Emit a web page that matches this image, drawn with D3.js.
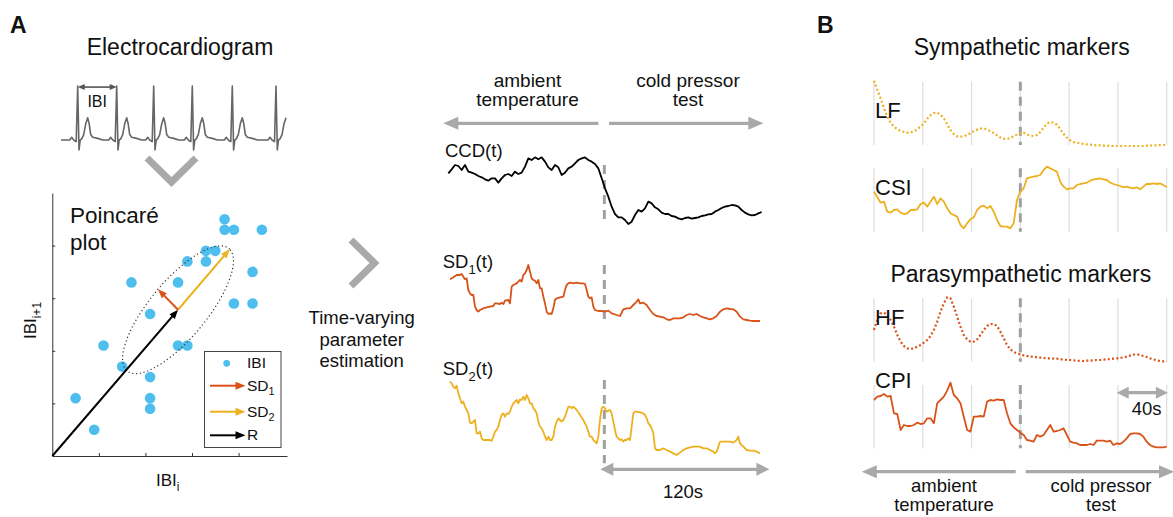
<!DOCTYPE html>
<html><head><meta charset="utf-8">
<script src="https://cdn.jsdelivr.net/npm/d3@7"></script>
<style>
html,body{margin:0;padding:0;background:#fff;}
svg{display:block;font-family:"Liberation Sans",Arial,Helvetica,sans-serif;}
</style></head><body>
<svg id="c" width="1173" height="517"></svg>
<script>
// ================= DATA =================
// ECG: R-peak times (s) and a single-beat template (offset s, amplitude mV)
const ecgRPeakTimes = [0.334, 1.114, 1.854, 2.626, 3.426, 4.3];
const ecgTemplateDt = [-0.16,-0.12,-0.08,-0.03,0,0.026,0.05,0.08,0.12,0.16,0.2,0.23,0.26,0.3,0.4,0.5];
const ecgTemplateMv = [0,0.05,0,-0.03,1.0,-0.185,0,0.02,0.1,0.3,0.41,0.3,0.1,0.05,0.03,0];
const ecgDuration = 4.5;

// Poincaré plot: IBI_i vs IBI_i+1 (arbitrary units)
const ibiI  = [3.7,3.7,3.9,4.5,3.3,3.5,2.9,3.3,4.3,1.7,2.7,3.9,4.3,2.1,1.1,2.7,2.9,1.5,2.1,0.5,2.1,2.1,0.9];
const ibiI1 = [4.5,4.3,4.3,4.3,3.9,3.9,3.7,3.7,3.5,3.3,3.3,2.9,2.9,2.7,2.1,2.1,2.1,1.7,1.5,1.1,1.1,0.9,0.5];
const poincareCenter = [2.70, 2.78];
const sd1Tip = [2.27, 3.17];
const sd2Tip = [3.81, 3.93];
const poincareTicks = [1, 2, 3, 4];
const legendItems = ["IBI", "SD1", "SD2", "R"];

// Time-varying estimates (sample index, ~1.18 s per sample)
const midSamplePeriod = 1.183;
const cptOnsetIdx = 104.6;
const ccdStartIdx = 11, ccdStepIdx = 2;
const ccdValues = [
 16.0,17.2,18.5,18.2,17.0,18.5,16.5,16.2,15.8,15.2,
 14.8,14.2,13.8,14.5,14.5,13.2,14.5,15.5,15.8,15.2,
 16.5,15.8,16.2,18.0,20.5,20.0,20.8,20.2,20.8,19.5,
 17.8,17.0,18.5,17.8,15.5,16.2,17.5,18.0,19.0,20.0,
 20.5,20.8,20.0,19.5,18.8,17.5,14.5,11.5,9.0,6.0,
 3.8,2.8,2.8,2.0,0.8,1.5,3.5,5.0,4.5,5.5,
 7.5,7.0,5.8,5.2,4.2,3.8,3.8,3.2,3.0,2.5,
 2.2,2.6,2.8,2.4,2.6,2.8,3.2,3.4,3.7,3.8,
 4.5,5.0,5.6,6.0,6.2,6.5,6.4,6.0,5.0,4.2,
 3.7,3.4,3.5,4.0,4.4];
const sd1Series = [[12,18.2],[14,18.8],[16,19.5],[18,19.5],[19,19.8],[20,19.0],[21,18.2],[22,18.5],[23,15.0],[24,14.0],[25,13.5],[26,13.5],[27,10.0],[28,9.0],[29,8.5],[30,9.0],[32,9.5],[34,9.8],[36,10.0],[38,10.2],[39,11.0],[40,11.0],[42,10.8],[43,11.2],[44,10.8],[45,11.8],[47,12.0],[48,11.0],[49,16.0],[50,16.5],[52,17.0],[53,17.5],[54,18.0],[55,17.5],[56,19.5],[57,20.0],[58,21.0],[59,22.5],[60,20.5],[61,18.5],[62,18.0],[63,17.8],[64,17.0],[65,18.0],[66,15.5],[67,15.5],[68,13.0],[69,11.0],[70,8.5],[71,7.8],[72,8.0],[73,7.8],[74,9.5],[75,12.0],[76,12.5],[78,12.8],[80,13.0],[81,15.0],[82,16.5],[83,17.0],[84,17.2],[86,17.0],[88,17.2],[90,17.0],[92,17.0],[93,16.8],[94,15.0],[95,13.0],[96,12.5],[97,12.8],[98,10.0],[99,9.0],[101,8.7],[103,8.7],[105,8.5],[107,8.8],[109,8.0],[112,7.5],[114,7.2],[116,9.2],[118,9.5],[120,9.5],[122,10.5],[124,11.5],[125,12.2],[126,11.0],[128,11.2],[130,10.5],[132,9.0],[134,7.8],[136,7.2],[138,7.0],[140,6.8],[142,6.2],[144,6.0],[146,6.5],[148,6.5],[150,6.5],[152,6.8],[154,7.5],[156,7.8],[158,7.5],[160,7.8],[162,7.2],[164,6.8],[166,6.5],[168,6.2],[170,6.5],[172,7.2],[174,8.5],[176,9.2],[178,9.5],[180,9.3],[182,9.2],[184,8.5],[186,7.0],[188,6.2],[190,6.0],[192,5.8],[194,5.7],[196,5.7],[198,5.7]];
const sd2Series = [[12,27.5],[13,27.0],[14,26.0],[15,25.5],[16,26.3],[17,24.0],[18,22.5],[19,21.0],[20,21.5],[21,20.0],[22,19.0],[23,18.0],[24,15.2],[25,15.0],[26,15.5],[27,16.0],[28,12.0],[29,12.0],[30,12.5],[31,10.5],[32,10.0],[34,10.0],[36,10.0],[37,9.7],[38,11.0],[39,12.5],[40,13.0],[41,14.0],[42,16.0],[43,17.5],[44,18.0],[45,17.0],[46,18.0],[47,17.8],[48,18.5],[49,20.0],[50,21.0],[51,21.5],[52,22.0],[53,21.0],[54,22.2],[55,22.0],[56,23.0],[57,22.0],[58,23.5],[59,22.5],[60,21.0],[61,21.0],[62,19.5],[63,19.0],[64,18.0],[65,15.5],[66,14.0],[67,13.5],[68,12.5],[69,11.0],[70,10.0],[71,11.0],[72,10.0],[73,10.0],[74,11.0],[75,14.0],[76,15.5],[77,16.5],[78,16.0],[79,15.5],[80,16.0],[81,17.0],[82,18.5],[83,20.0],[84,20.0],[85,19.5],[86,20.0],[88,19.0],[90,17.5],[92,16.0],[93,15.0],[94,14.0],[95,12.5],[96,11.0],[97,11.0],[98,10.0],[99,9.5],[100,9.0],[101,11.0],[102,16.0],[103,19.5],[104,20.0],[105,19.5],[106,18.5],[107,18.8],[108,19.0],[109,18.0],[110,15.5],[111,13.0],[112,11.0],[113,10.5],[114,10.0],[115,10.2],[116,9.5],[117,10.0],[118,10.0],[119,10.5],[120,10.0],[121,14.0],[122,18.0],[123,18.5],[124,18.5],[126,18.3],[128,18.0],[129,17.5],[130,16.5],[131,15.0],[132,14.5],[133,13.5],[134,12.0],[135,7.5],[136,7.0],[138,7.0],[140,7.5],[142,7.0],[144,6.5],[146,6.0],[148,5.5],[150,6.2],[152,7.0],[154,7.5],[156,7.8],[158,8.0],[160,8.0],[162,8.0],[164,7.5],[166,7.5],[168,7.0],[170,6.5],[171,6.0],[172,6.5],[173,8.0],[174,9.5],[176,9.5],[178,9.5],[180,9.5],[182,9.2],[184,10.0],[185,11.0],[186,9.0],[188,8.0],[190,7.0],[192,6.8],[194,6.8],[196,6.5],[198,6.0]];

// Autonomic markers (uniform samples over 0-240 s)
const rightDuration = 240;
const rightGridTimes = [0, 40, 80, 120, 160, 200, 240];
const cptOnsetSec = 120;
const lfValues = [
 19.8,17.0,14.5,11.5,9.0,7.2,6.0,5.3,4.7,4.4,
 4.2,4.3,4.6,5.2,6.0,7.0,8.4,9.4,10.1,10.2,
 9.6,8.5,6.7,4.9,3.8,3.1,3.0,3.1,3.5,4.1,
 4.6,5.1,5.4,5.5,5.1,4.7,4.1,3.4,2.7,2.4,
 2.3,2.6,3.1,3.7,4.0,4.2,3.7,3.3,3.2,3.5,
 4.4,5.7,6.9,7.4,7.2,6.6,5.3,3.8,2.7,1.9,
 1.4,1.2,1.0,0.8,0.7,0.6,0.5,0.4,0.4,0.3,
 0.3,0.2,0.2,0.2,0.2,0.2,0.2,0.2,0.2,0.2,
 0.2,0.2,0.3,0.3,0.4,0.4,0.5,0.5,0.5];
const csiValues = [
 12.5,10.8,9.2,9.5,6.5,6.2,7.0,7.2,6.2,5.8,
 6.0,7.0,7.0,7.2,8.8,9.2,8.0,9.5,11.0,8.8,
 10.5,9.5,7.5,6.0,5.5,5.0,2.5,1.5,3.0,4.2,
 4.8,7.0,8.0,8.3,7.5,8.2,6.5,4.0,2.2,2.0,
 2.0,1.5,3.0,10.0,12.5,13.5,16.5,16.8,17.0,17.2,
 17.5,19.0,20.0,19.5,19.0,18.5,15.5,14.0,13.2,13.5,
 13.5,14.5,14.8,15.0,15.2,15.8,16.2,16.3,16.5,16.2,
 16.0,15.2,14.8,14.5,14.2,13.8,14.0,13.7,13.5,13.8,
 13.2,14.0,14.8,14.8,15.0,14.8,15.0,14.5,13.8];
const hfValues = [
 10.0,13.0,15.0,15.2,14.5,13.0,11.0,8.5,6.5,5.2,
 4.5,4.3,4.5,5.0,5.5,6.2,7.0,8.2,10.0,12.5,
 15.5,18.0,19.8,19.5,17.0,14.0,11.0,8.5,7.2,6.5,
 6.5,7.2,8.5,10.0,11.2,11.8,11.8,11.2,9.5,7.5,
 5.5,4.2,3.4,3.0,2.7,2.4,2.2,2.0,2.0,1.8,
 1.7,1.6,1.5,1.5,1.4,1.4,1.2,1.2,1.0,1.0,
 0.9,0.8,0.7,0.7,0.8,0.8,0.9,1.0,1.0,1.1,
 1.2,1.3,1.4,1.5,1.6,1.8,2.0,2.3,2.6,2.7,
 2.5,2.2,1.9,1.5,1.2,0.9,0.7,0.6,0.4];
const cpiValues = [
 15.0,16.0,16.2,16.8,16.0,16.2,11.0,10.8,6.0,7.5,
 7.2,7.2,7.5,8.2,7.8,8.0,9.5,9.5,8.0,14.0,
 15.0,16.0,17.8,20.2,16.5,15.5,14.0,10.0,6.0,5.5,
 10.0,10.0,10.2,10.0,14.5,15.0,14.8,15.2,15.0,15.0,
 11.0,8.0,6.8,6.0,5.2,4.5,3.0,2.8,2.5,4.5,
 4.0,4.5,6.0,7.5,5.5,5.7,6.0,6.5,4.5,2.5,
 2.2,2.0,1.5,1.5,1.5,1.8,1.5,2.8,2.8,2.8,
 2.5,2.8,1.5,2.0,1.8,2.5,3.5,4.8,5.0,5.0,
 4.8,4.0,2.5,1.5,1.0,0.8,0.8,0.8,1.0];

// ================= DRAWING =================
const svg = d3.select('#c');
const GRAY = '#a9a9a9', DASH = '#a0a0a0', TXT = '#111';
const C_BLUE = '#4DBEEE', C_RED = '#D95319', C_YEL = '#EDB120';

function arrow(g, x1, y1, x2, y2, o) {
  const dx = x2 - x1, dy = y2 - y1, L = Math.hypot(dx, dy), ux = dx / L, uy = dy / L;
  const inset = o.hl * 0.6;
  let sx = x1, sy = y1, tx = x2, ty = y2;
  if (o.end) { tx = x2 - ux * inset; ty = y2 - uy * inset; }
  if (o.start) { sx = x1 + ux * inset; sy = y1 + uy * inset; }
  g.append('line').attr('x1', sx).attr('y1', sy).attr('x2', tx).attr('y2', ty)
    .attr('stroke', o.color).attr('stroke-width', o.width);
  const head = (px, py, vx, vy) => {
    const bx = px - vx * o.hl, by = py - vy * o.hl, nx = -vy, ny = vx;
    g.append('path').attr('d', `M${px},${py}L${bx + nx * o.hw / 2},${by + ny * o.hw / 2}L${bx - nx * o.hw / 2},${by - ny * o.hw / 2}Z`)
      .attr('fill', o.color);
  };
  if (o.end) head(x2, y2, ux, uy);
  if (o.start) head(x1, y1, -ux, -uy);
}

function label(g, x, y, parts, size, anchor, weight) {
  const t = g.append('text').attr('x', x).attr('y', y).attr('font-size', size)
    .attr('text-anchor', anchor || 'start').attr('fill', TXT).attr('font-weight', weight || 'normal');
  let sub = false;
  parts.forEach(p => {
    const isSub = Array.isArray(p);
    const s = isSub ? p[0] : p;
    const ts = t.append('tspan').text(s);
    if (isSub && !sub) { ts.attr('dy', size * 0.3).attr('font-size', size * 0.7); sub = true; }
    else if (isSub) { ts.attr('font-size', size * 0.7); }
    else if (!isSub && sub) { ts.attr('dy', -size * 0.3); sub = false; }
  });
  return t;
}
const G = svg.append('g');

// panel letters
label(G, 10, 33, ['A'], 23, 'start', 'bold');
label(G, 817, 33, ['B'], 23, 'start', 'bold');

// ---------- ECG ----------
label(G, 180, 55, ['Electrocardiogram'], 23, 'middle');
const ex = d3.scaleLinear().domain([0, ecgDuration]).range([61, 286]);
const ey = d3.scaleLinear().domain([0, 1]).range([140, 86]);
const ecgPts = [[0, 0]];
ecgRPeakTimes.forEach(r => ecgTemplateDt.forEach((dt, k) => {
  const t = r + dt;
  if (t >= 0 && t <= ecgDuration) ecgPts.push([t, ecgTemplateMv[k]]);
}));
ecgPts.sort((a, b) => a[0] - b[0]);
G.append('path').attr('d', d3.line().x(d => ex(d[0])).y(d => ey(d[1]))(ecgPts))
  .attr('fill', 'none').attr('stroke', '#666').attr('stroke-width', 1.6).attr('stroke-linejoin', 'round');
arrow(G, ex(ecgRPeakTimes[0]), ey(0.98), ex(ecgRPeakTimes[1]), ey(0.98), {color: '#555', width: 1.6, hl: 7, hw: 6, start: true, end: true});
label(G, (ex(ecgRPeakTimes[0]) + ex(ecgRPeakTimes[1])) / 2, 106.5, ['IBI'], 16, 'middle');

// chevrons
G.append('path').attr('d', 'M147,158L171.5,182L196,158').attr('fill', 'none').attr('stroke', GRAY).attr('stroke-width', 7);
G.append('path').attr('d', 'M351,240L374.5,263L351,286').attr('fill', 'none').attr('stroke', GRAY).attr('stroke-width', 7);

// ---------- Poincaré ----------
const px = d3.scaleLinear().domain([0, 5.04]).range([52.3, 287]);
const py = d3.scaleLinear().domain([0, 5]).range([456, 193]);
const gx = G.append('g').attr('transform', `translate(0,${py(0)})`)
  .call(d3.axisBottom(px).tickValues(poincareTicks).tickSize(-3).tickSizeOuter(0).tickFormat(''));
const gy = G.append('g').attr('transform', `translate(${px(0)},0)`)
  .call(d3.axisLeft(py).tickValues(poincareTicks).tickSize(-3).tickSizeOuter(0).tickFormat(''));
[gx, gy].forEach(a => { a.selectAll('path,line').attr('stroke', '#333').attr('stroke-width', 1); });

G.append('g').selectAll('circle').data(ibiI).join('circle')
  .attr('cx', d => px(d)).attr('cy', (d, i) => py(ibiI1[i])).attr('r', 5.3).attr('fill', C_BLUE);

const ax = sd2Tip[0] - poincareCenter[0], ay = sd2Tip[1] - poincareCenter[1];
const bx = sd1Tip[0] - poincareCenter[0], by = sd1Tip[1] - poincareCenter[1];
const ell = d3.range(0, 2 * Math.PI, Math.PI / 90).map(t => [
  poincareCenter[0] + Math.cos(t) * ax + Math.sin(t) * bx,
  poincareCenter[1] + Math.cos(t) * ay + Math.sin(t) * by]);
G.append('path').attr('d', d3.line().x(d => px(d[0])).y(d => py(d[1])).curve(d3.curveLinearClosed)(ell))
  .attr('fill', 'none').attr('stroke', '#333').attr('stroke-width', 1.2).attr('stroke-dasharray', '1.2,2.6');

arrow(G, px(0), py(0), px(poincareCenter[0]), py(poincareCenter[1]), {color: '#000', width: 2, hl: 9, hw: 7, end: true});
arrow(G, px(poincareCenter[0]), py(poincareCenter[1]), px(sd2Tip[0]), py(sd2Tip[1]), {color: C_YEL, width: 2, hl: 9, hw: 7, end: true});
arrow(G, px(poincareCenter[0]), py(poincareCenter[1]), px(sd1Tip[0]), py(sd1Tip[1]), {color: C_RED, width: 2, hl: 9, hw: 7, end: true});

label(G, 70, 223, ['Poincaré'], 22.5);
label(G, 70, 250, ['plot'], 22.5);
label(G, (px(0) + px(5.04)) / 2 - 2, 486, ['IBI', ['i']], 17, 'middle');
const yl = G.append('g').attr('transform', `translate(36,${(py(0) + py(5)) / 2 - 4}) rotate(-90)`);
label(yl, 0, 0, ['IBI', ['i+1']], 17, 'middle');

// legend
const lg = G.append('g');
lg.append('rect').attr('x', 204.5).attr('y', 351.5).attr('width', 76.5).attr('height', 96)
  .attr('fill', '#fff').attr('stroke', '#444').attr('stroke-width', 1);
const legRows = [363.3, 385.7, 411.7, 435.3];
const legColors = [C_BLUE, C_RED, C_YEL, '#000'];
legendItems.forEach((name, i) => {
  const y = legRows[i];
  if (i === 0) lg.append('circle').attr('cx', 226.7).attr('cy', y).attr('r', 3.4).attr('fill', legColors[i]);
  else arrow(lg, 210, y, 245.5, y, {color: legColors[i], width: 2, hl: 10, hw: 8, end: true});
  const parts = name.startsWith('SD') ? ['SD', [name.slice(2)]] : [name];
  label(lg, 247, y + 5, parts, 15.5);
});

// ---------- Time-varying panel ----------
label(G, 361.7, 324, ['Time-varying'], 18.5, 'middle');
label(G, 361.7, 345.5, ['parameter'], 18.5, 'middle');
label(G, 361.7, 367, ['estimation'], 18.5, 'middle');

const mx = d3.scaleLinear().domain([0, 210]).range([430, 780]);
const ccdY = d3.scaleLinear().domain([0, 20]).range([226.67, 160]);
const sd1Y = d3.scaleLinear().domain([0, 30]).range([340, 240]);
const sd2Y = d3.scaleLinear().domain([0, 30]).range([473.33, 373.33]);

label(G, 527.5, 87, ['ambient'], 19, 'middle');
label(G, 527.5, 106, ['temperature'], 19, 'middle');
label(G, 688, 87, ['cold pressor'], 19, 'middle');
label(G, 688, 106, ['test'], 19, 'middle');
arrow(G, mx(101), 123.3, mx(8), 123.3, {color: GRAY, width: 3.2, hl: 15, hw: 13, end: true});
arrow(G, mx(107.4), 123.3, mx(200), 123.3, {color: GRAY, width: 3.2, hl: 15, hw: 13, end: true});

const dashes = [[ccdY, 0.5, 18.5], [sd1Y, 5.5, 22.5], [sd2Y, 3, 28]];
dashes.forEach(([ys, a, b]) => {
  G.append('line').attr('x1', mx(cptOnsetIdx)).attr('x2', mx(cptOnsetIdx)).attr('y1', ys(b)).attr('y2', ys(a))
    .attr('stroke', DASH).attr('stroke-width', 3).attr('stroke-dasharray', '9,6');
});

G.append('path').attr('d', d3.line().x((d, i) => mx(ccdStartIdx + i * ccdStepIdx)).y(d => ccdY(d))(ccdValues))
  .attr('fill', 'none').attr('stroke', '#000').attr('stroke-width', 1.8).attr('stroke-linejoin', 'round');
G.append('path').attr('d', d3.line().x(d => mx(d[0])).y(d => sd1Y(d[1]))(sd1Series))
  .attr('fill', 'none').attr('stroke', C_RED).attr('stroke-width', 1.8).attr('stroke-linejoin', 'round');
G.append('path').attr('d', d3.line().x(d => mx(d[0])).y(d => sd2Y(d[1]))(sd2Series))
  .attr('fill', 'none').attr('stroke', C_YEL).attr('stroke-width', 1.8).attr('stroke-linejoin', 'round');

label(G, 445, 157, ['CCD(t)'], 18.5);
label(G, 442.7, 268, ['SD', ['1'], '(t)'], 18.5);
label(G, 442.7, 375, ['SD', ['2'], '(t)'], 18.5);

const bar120Start = 102.2;
arrow(G, mx(bar120Start), 469.3, mx(bar120Start + 120 / midSamplePeriod), 469.3, {color: GRAY, width: 3.2, hl: 13, hw: 13, start: true, end: true});
label(G, 683, 498, ['120s'], 18.5, 'middle');

// ---------- Autonomic markers ----------
label(G, 1021.7, 55, ['Sympathetic markers'], 23, 'middle');
label(G, 1020.8, 281.7, ['Parasympathetic markers'], 23, 'middle');
const rx = d3.scaleLinear().domain([0, rightDuration]).range([874, 1166.67]);
const rightPanels = [
  {name: 'LF', values: lfValues, color: C_YEL, dotted: true, range: [146.67, 80], labelY: 118.3},
  {name: 'CSI', values: csiValues, color: C_YEL, dotted: false, range: [233.33, 166.67], labelY: 195},
  {name: 'HF', values: hfValues, color: C_RED, dotted: true, range: [363.33, 296.67], labelY: 325},
  {name: 'CPI', values: cpiValues, color: C_RED, dotted: false, range: [450, 383.33], labelY: 388.3}
];
rightPanels.forEach(p => {
  const ys = d3.scaleLinear().domain([0, 20]).range(p.range);
  const g = G.append('g');
  g.selectAll('line.grid').data(rightGridTimes).join('line').attr('class', 'grid')
    .attr('x1', d => rx(d)).attr('x2', d => rx(d)).attr('y1', ys(19.5)).attr('y2', ys(0.5))
    .attr('stroke', '#dedede').attr('stroke-width', 1.2);
  g.append('line').attr('x1', rx(cptOnsetSec)).attr('x2', rx(cptOnsetSec)).attr('y1', ys(19.5)).attr('y2', ys(0.5))
    .attr('stroke', DASH).attr('stroke-width', 3).attr('stroke-dasharray', '9,6');
  const n = p.values.length;
  const path = g.append('path')
    .attr('d', d3.line().x((d, i) => rx(i * rightDuration / (n - 1))).y(d => ys(d))(p.values))
    .attr('fill', 'none').attr('stroke', p.color).attr('stroke-linejoin', 'round');
  if (p.dotted) path.attr('stroke-width', 2.2).attr('stroke-dasharray', '2,2.3');
  else path.attr('stroke-width', 1.8);
  label(g, 875, p.labelY, [p.name], 22);
});

const bar40 = [199, 241];
arrow(G, rx(bar40[0]), 392.7, rx(bar40[1]), 392.7, {color: GRAY, width: 3.2, hl: 12, hw: 12, start: true, end: true});
label(G, 1146.7, 415, ['40s'], 18.5, 'middle');

arrow(G, rx(116.2), 471.7, rx(-10), 471.7, {color: GRAY, width: 3.2, hl: 15, hw: 13, end: true});
arrow(G, rx(124.4), 471.7, rx(246), 471.7, {color: GRAY, width: 3.2, hl: 15, hw: 13, end: true});
label(G, 944, 492, ['ambient'], 18.5, 'middle');
label(G, 944, 511, ['temperature'], 18.5, 'middle');
label(G, 1101, 492, ['cold pressor'], 18.5, 'middle');
label(G, 1101, 511, ['test'], 18.5, 'middle');
</script>
</body></html>
